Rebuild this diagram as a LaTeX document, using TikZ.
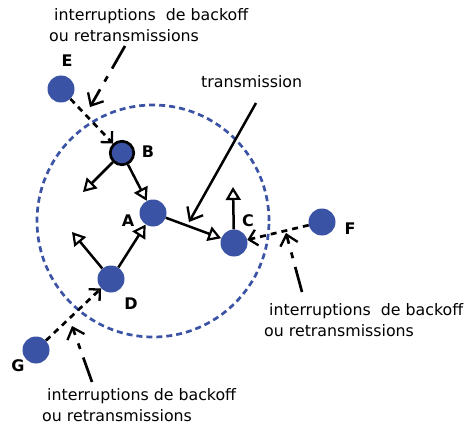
\documentclass[tikz,border=0pt]{standalone}
\usepackage{fontspec}
\setmainfont{DejaVu Sans}
\usetikzlibrary{arrows.meta}
\definecolor{nodeblue}{RGB}{58,83,164}
\begin{document}
\begin{tikzpicture}[x=1pt,y=-1pt,
  station/.style={circle,fill=nodeblue,minimum size=27pt,inner sep=0pt},
  lab/.style={font=\fontsize{16}{18}\selectfont\bfseries,inner sep=0pt},
  note/.style={font=\fontsize{15.8}{21}\selectfont,align=left,inner sep=0pt,anchor=west},
  tx/.style={line width=2.5pt,-{Triangle[open,length=13pt,width=15pt,line width=2.2pt]}},
  intf/.style={line width=2.7pt,dash pattern=on 6pt off 5pt,-{Straight Barb[length=8pt,width=16pt,line width=2.3pt]}},
  ann/.style={line width=2.7pt,dash pattern=on 26pt off 9pt on 6pt off 9pt,-{Straight Barb[length=10pt,width=18pt,line width=2.3pt]}},
  txarrow/.style={line width=2.5pt,-{Straight Barb[length=11pt,width=18pt,line width=2.3pt]}},
  rangecircle/.style={circle,draw=nodeblue,line width=2.7pt,dash pattern=on 6pt off 4pt,minimum size=232pt,inner sep=0pt}
]
\useasboundingbox (0,0) rectangle (464,428);
% range circle
\node[rangecircle] (R) at (153,221) {};
% stations
\node[station] (E) at (61,89) {};
\node[station,draw=black,line width=2.7pt,minimum size=23.5pt] (B) at (122,153) {};
\node[station] (A) at (153,213) {};
\node[station] (C) at (234,243) {};
\node[station] (D) at (111,279) {};
\node[station] (F) at (322,222) {};
\node[station] (G) at (36,350) {};
% labels
\node[lab] (lE) at (67,61) {E};
\node[lab] (lB) at (148,152) {B};
\node[lab] (lA) at (128,221) {A};
\node[lab] (lC) at (248,221) {C};
\node[lab] (lD) at (131,304) {D};
\node[lab] (lF) at (350,229) {F};
\node[lab] (lG) at (18,366) {G};
% free ends
\coordinate (bout) at (83,192);
\coordinate (cout) at (233,187);
\coordinate (dout) at (72,232);
% transmissions
\draw[tx] (B) -- (bout);
\draw[tx] (B) -- (A);
\draw[tx] (A) -- (C);
\draw[tx] (C) -- (cout);
\draw[tx] (D) -- (A);
\draw[tx] (D) -- (dout);
% interferences
\draw[intf] (E) -- (B);
\draw[intf] (F) -- (C);
\draw[intf] (G) -- (D);
% texts
\node[note] (ntop) at (49,25) {\hspace*{5pt}interruptions\ \ de backoff\\ou retransmissions};
\node[note] (ntx) at (201,82) {transmission};
\node[note] (nright) at (264,320) {\hspace*{5pt}interruptions\ \ de backoff\\ou retransmissions};
\node[note] (nbot) at (42,405) {\hspace*{5pt}interruptions de backoff\\ou retransmissions};
% annotation arrows
\coordinate (a1s) at (125,46);  \coordinate (a1e) at (90,107);
\coordinate (a2s) at (302,292); \coordinate (a2e) at (286,233);
\coordinate (a3s) at (92,382);  \coordinate (a3e) at (72,326);
\coordinate (ts) at (256,103);  \coordinate (te) at (189,222);
\draw[ann] (a1s) -- (a1e);
\draw[ann] (a2s) -- (a2e);
\draw[ann] (a3s) -- (a3e);
\draw[txarrow] (ts) -- (te);
\end{tikzpicture}
\end{document}
